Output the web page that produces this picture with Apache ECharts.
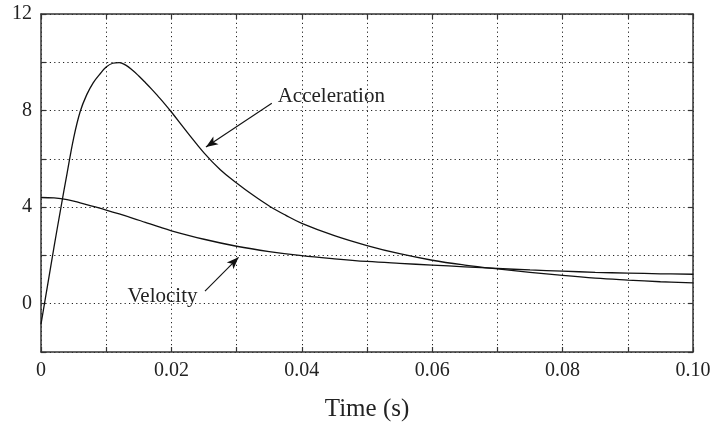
<!DOCTYPE html>
<html>
<head>
<meta charset="utf-8">
<script src="https://cdn.jsdelivr.net/npm/echarts@6/dist/echarts.min.js"></script>
<style>
html,body{margin:0;padding:0;background:#fff;}
#chart{width:716px;height:427px;}
</style>
</head>
<body>
<div id="chart"></div>
<script>
// ---- data ----
var accelT = [0, 0.001, 0.002, 0.003, 0.004, 0.005, 0.006, 0.007, 0.008, 0.009, 0.010, 0.011, 0.012, 0.013, 0.014, 0.015, 0.016, 0.017, 0.018, 0.019, 0.020, 0.0225, 0.025, 0.0275, 0.030, 0.0325, 0.035, 0.0375, 0.040, 0.045, 0.050, 0.055, 0.060, 0.065, 0.070, 0.075, 0.080, 0.085, 0.090, 0.095, 0.100];
var accelV = [-0.85, 0.75, 2.35, 3.9, 5.4, 6.85, 7.95, 8.65, 9.15, 9.5, 9.8, 9.96, 9.99, 9.88, 9.68, 9.43, 9.16, 8.88, 8.58, 8.27, 7.94, 7.08, 6.25, 5.55, 5.0, 4.5, 4.05, 3.67, 3.33, 2.82, 2.41, 2.07, 1.80, 1.60, 1.44, 1.30, 1.17, 1.06, 0.98, 0.91, 0.86];

var velT = [0, 0.002, 0.004, 0.006, 0.008, 0.010, 0.012, 0.014, 0.016, 0.018, 0.020, 0.025, 0.030, 0.035, 0.040, 0.045, 0.050, 0.055, 0.060, 0.065, 0.070, 0.075, 0.080, 0.085, 0.090, 0.095, 0.100];
var velV = [4.40, 4.38, 4.31, 4.18, 4.03, 3.88, 3.72, 3.55, 3.37, 3.19, 3.02, 2.67, 2.38, 2.16, 1.99, 1.86, 1.75, 1.67, 1.60, 1.53, 1.46, 1.40, 1.35, 1.30, 1.27, 1.24, 1.22];

var xTickLabels = ['0', '0.02', '0.04', '0.06', '0.08', '0.10'];
var yTickLabels = ['0', '4', '8', '12'];

// annotations (data coordinates)
var accelLabel = {text: 'Acceleration', at: [0.0363, 8.6]};
var accelArrow = [[0.0354, 8.30], [0.0253, 6.49]];
var velLabel = {text: 'Velocity', at: [0.0240, 0.30]};
var velArrow = [[0.02515, 0.52], [0.0303, 1.92]];

var FONT = '"Liberation Serif", "Times New Roman", serif';
var TXT = '#222';

function pairs(xs, ys) { return xs.map(function (x, i) { return [x, ys[i]]; }); }

var chart = echarts.init(document.getElementById('chart'), null, {renderer: 'canvas'});

var gridLine = {show: true, lineStyle: {color: '#222', width: 1, type: [1.2, 3.2]}};
var axLine = {show: true, onZero: false, lineStyle: {color: '#333', width: 1.5}};
var tick = {show: true, inside: true, length: 5, lineStyle: {color: '#333', width: 1.2}};

chart.setOption({
  animation: false,
  backgroundColor: '#fff',
  grid: {left: 41, right: 23, top: 14, bottom: 73, containLabel: false},
  xAxis: [{
    type: 'value', min: 0, max: 0.1, interval: 0.01, position: 'bottom',
    axisLine: axLine, axisTick: tick, splitLine: gridLine,
    axisLabel: {
      margin: 9, color: TXT, fontFamily: FONT, fontSize: 20, showMinLabel: true, showMaxLabel: true,
      formatter: function (v) {
        var k = Math.round(v * 100);
        return (k % 2 === 0) ? xTickLabels[k / 2] : '';
      }
    },
    name: 'Time (s)', nameLocation: 'middle', nameGap: 45,
    nameTextStyle: {color: TXT, fontFamily: FONT, fontSize: 25}
  }, {
    type: 'value', min: 0, max: 0.1, interval: 0.01, position: 'top',
    axisLine: axLine, axisTick: tick, splitLine: {show: false}, axisLabel: {show: false}
  }],
  yAxis: [{
    type: 'value', min: -2, max: 12, interval: 2, position: 'left',
    axisLine: axLine, axisTick: tick, splitLine: gridLine,
    axisLabel: {
      margin: 9, color: TXT, fontFamily: FONT, fontSize: 20,
      formatter: function (v) {
        var i = yTickLabels.indexOf(String(v));
        return i >= 0 ? yTickLabels[i] : '';
      }
    }
  }, {
    type: 'value', min: -2, max: 12, interval: 2, position: 'right',
    axisLine: axLine, axisTick: tick, splitLine: {show: false}, axisLabel: {show: false}
  }],
  series: [{
    name: 'Acceleration', type: 'line', xAxisIndex: 0, yAxisIndex: 0,
    data: pairs(accelT, accelV), showSymbol: false, smooth: 0.4,
    lineStyle: {color: '#111', width: 1.3}, silent: true
  }, {
    name: 'Velocity', type: 'line', xAxisIndex: 0, yAxisIndex: 0,
    data: pairs(velT, velV), showSymbol: false, smooth: 0.4,
    lineStyle: {color: '#111', width: 1.3}, silent: true,
    markLine: {
      silent: true, animation: false,
      symbol: ['none', 'arrow'], symbolSize: [7, 12],
      label: {show: false},
      lineStyle: {color: '#111', width: 1.1, type: 'solid'},
      emphasis: {disabled: true},
      data: [
        [{coord: accelArrow[0]}, {coord: accelArrow[1]}],
        [{coord: velArrow[0]}, {coord: velArrow[1]}]
      ]
    },
    markPoint: {
      silent: true, animation: false, symbol: 'circle', symbolSize: 0,
      itemStyle: {color: 'rgba(0,0,0,0)'},
      data: [
        {coord: accelLabel.at, label: {show: true, position: 'right', distance: 0, formatter: accelLabel.text, color: TXT, fontFamily: FONT, fontSize: 21}},
        {coord: velLabel.at, label: {show: true, position: 'left', distance: 0, formatter: velLabel.text, color: TXT, fontFamily: FONT, fontSize: 21}}
      ]
    }
  }]
});
</script>
</body>
</html>
